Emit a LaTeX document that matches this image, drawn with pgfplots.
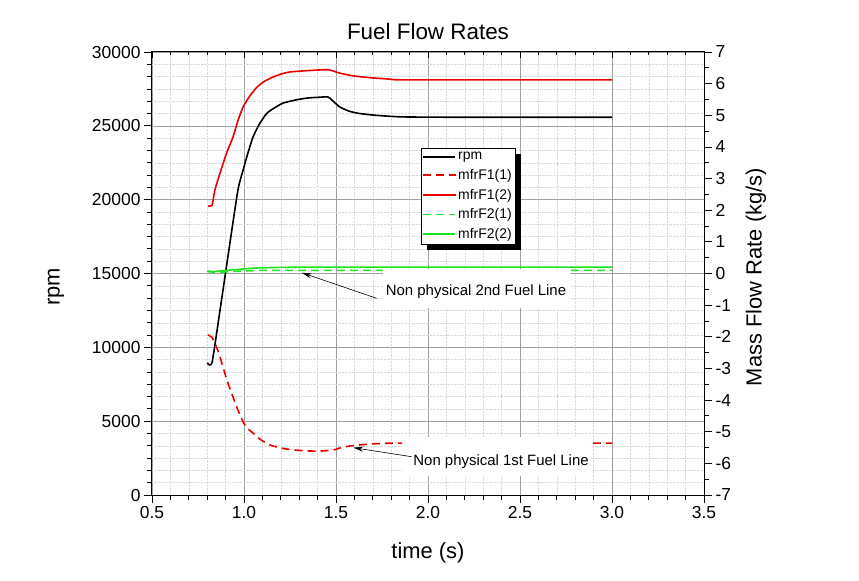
\documentclass[border=0pt]{standalone}
\usepackage{pgfplots}
\pgfplotsset{compat=1.18}
\usepackage{fontspec}
\setmainfont{Liberation Sans}
\usetikzlibrary{arrows.meta}
\definecolor{cred}{RGB}{235,0,0}
\definecolor{cgreen}{RGB}{30,230,30}
\pgfplotsset{
  base/.style={
    scale only axis, width=552bp, height=443bp, at={(0,0)}, anchor=south west,
    xmin=0.5, xmax=3.5,
    tick align=outside, major tick length=8bp, minor tick length=5bp,
    every tick/.style={black, line width=0.8bp},
    axis line style={line width=1bp},
    /pgf/number format/assume math mode=true,
    tick label style={font=\fontsize{17.5}{20}\selectfont},
    label style={font=\fontsize{22}{26}\selectfont},
  }
}
\begin{document}
\begin{tikzpicture}
\path[use as bounding box] (-152bp,-86bp) rectangle (707bp,495bp);
% ---------- left axis (rpm) ----------
\begin{axis}[base,
  ymin=0, ymax=30000,
  ytick={0,5000,...,30000}, minor y tick num=5,
  xtick={0.5,1,...,3.5}, minor x tick num=4,
  xtick pos=bottom, ytick pos=left,
  scaled y ticks=false,
  yticklabel style={/pgf/number format/.cd, fixed, 1000 sep={}},
  xticklabel style={/pgf/number format/.cd, fixed, fixed zerofill, precision=1},
  grid=both,
  major grid style={gray!75, line width=0.5bp},
  minor grid style={gray!28, line width=0.4bp, densely dotted},
  title={Fuel Flow Rates},
  title style={font=\fontsize{22.5}{27}\selectfont, at={([yshift=15bp]rel axis cs:0.5,1)}, anchor=center},
  xlabel={time (s)},
  xlabel style={at={([yshift=-58bp]rel axis cs:0.5,0)}, anchor=center},
  ylabel={rpm},
  ylabel style={at={([xshift=-96bp]rel axis cs:0,0.47)}, anchor=center},
]
\addplot[black, line width=1.6bp, line join=round, smooth, tension=0.35] coordinates {
(0.800,8940)(0.826,8960)(0.870,12540)(0.918,16600)(0.967,20650)(0.995,22000)
(1.020,23100)(1.049,24240)(1.085,25150)(1.125,25860)(1.170,26250)(1.212,26540)
(1.280,26750)(1.342,26880)(1.400,26930)(1.457,26950)(1.490,26600)(1.522,26270)
(1.570,26000)(1.620,25850)(1.701,25730)(1.800,25640)(1.886,25600)(2.200,25580)(3.000,25580)
};
\end{axis}
% ---------- top ticks (inward) ----------
\begin{axis}[base, ymin=0, ymax=1,
  axis x line*=top, axis y line=none,
  tick align=inside, major tick length=6bp, minor tick length=3.5bp,
  xtick={0.5,1,...,3.5}, minor x tick num=4, xticklabels={},
]
\end{axis}
% ---------- right axis (mass flow) ----------
\begin{axis}[base,
  ymin=-7, ymax=7,
  ytick={-7,-6,...,7}, minor y tick num=1,
  axis y line*=right, axis x line=none,
  ylabel={Mass Flow Rate (kg/s)},
  ylabel style={at={([xshift=52bp]rel axis cs:1,0.492)}, anchor=center, rotate=0},
  legend style={at={(0.487,0.783)}, anchor=north west, draw=black, line width=0.6bp,
    fill=white, name=leg,
    font=\fontsize{14}{16}\selectfont, inner xsep=1.5bp, inner ysep=2bp,
    nodes={inner sep=2bp},
    row sep=4bp},
  legend cell align=left,
  legend image code/.code={\draw[mark repeat=2,mark phase=2,#1] plot coordinates {(0bp,0bp) (16bp,0bp) (32bp,0bp)};},
]
\addlegendimage{black, line width=1.6bp}
\addlegendentry{rpm}
\addplot[cred, line width=1.6bp, dash pattern=on 8bp off 5bp, line join=round, smooth, tension=0.35] coordinates {
(0.804,-1.94)(0.826,-2.02)(0.842,-2.20)(0.865,-2.55)(0.886,-2.96)(0.912,-3.45)
(0.940,-3.90)(0.968,-4.33)(0.995,-4.69)(1.020,-4.90)(1.049,-5.04)(1.090,-5.25)
(1.141,-5.42)(1.190,-5.50)(1.234,-5.55)(1.300,-5.59)(1.359,-5.61)(1.420,-5.61)
(1.484,-5.58)(1.530,-5.50)(1.576,-5.45)(1.685,-5.39)(1.859,-5.36)(3.000,-5.36)
};
\addlegendentry{mfrF1(1)}
\addplot[cred, line width=1.6bp, line join=round, smooth, tension=0.35] coordinates {
(0.805,2.14)(0.826,2.15)(0.842,2.64)(0.870,3.18)(0.905,3.80)(0.940,4.31)
(0.968,4.85)(0.995,5.26)(1.030,5.60)(1.071,5.89)(1.110,6.07)(1.158,6.21)
(1.200,6.30)(1.250,6.37)(1.342,6.41)(1.400,6.43)(1.457,6.44)(1.490,6.39)
(1.522,6.33)(1.600,6.24)(1.701,6.18)(1.800,6.14)(1.886,6.12)(3.000,6.12)
};
\addlegendentry{mfrF1(2)}
\addplot[cgreen, line width=1.6bp, dash pattern=on 8bp off 5bp, line join=round] coordinates {
(0.80,0.06)(0.85,0.04)(0.90,0.05)(1.00,0.08)(1.10,0.10)(1.30,0.10)(3.00,0.10)
};
\addlegendentry{mfrF2(1)}
\addplot[cgreen, line width=1.6bp, line join=round] coordinates {
(0.80,0.08)(0.83,0.06)(0.87,0.08)(0.95,0.12)(1.05,0.17)(1.15,0.19)(1.30,0.20)(3.00,0.20)
};
\addlegendentry{mfrF2(2)}
% annotations
\fill[white] (axis cs:1.755,0.15) rectangle (axis cs:2.772,-1.10);
\node[font=\fontsize{15}{18}\selectfont] at (axis cs:2.261,-0.58) {Non physical 2nd Fuel Line};
\draw[-{Stealth[length=10bp,width=5bp]}, line width=0.6bp] (axis cs:1.721,-0.784) -- (axis cs:1.314,0.025);
\fill[white] (axis cs:1.859,-5.17) rectangle (axis cs:2.891,-6.40);
\node[font=\fontsize{15}{18}\selectfont] at (axis cs:2.397,-5.93) {Non physical 1st Fuel Line};
\draw[-{Stealth[length=10bp,width=5bp]}, line width=0.6bp] (axis cs:1.911,-5.79) -- (axis cs:1.594,-5.505);
\end{axis}
% legend shadow
\fill[black] ([yshift=-6bp]leg.north east) rectangle ([xshift=6bp,yshift=-6bp]leg.south east);
\fill[black] ([xshift=6bp,yshift=-6bp]leg.south west) rectangle (leg.south east);
\end{tikzpicture}
\end{document}
